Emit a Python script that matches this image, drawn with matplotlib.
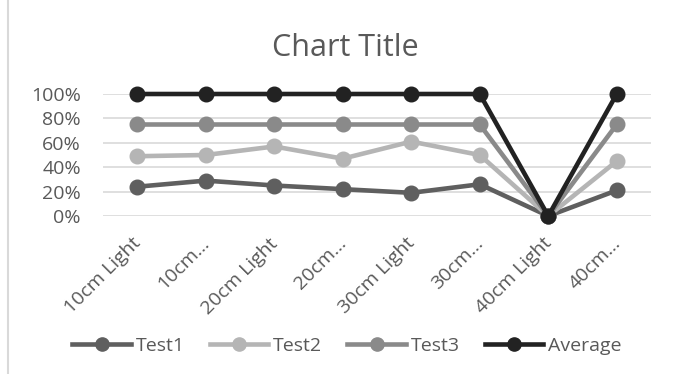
import matplotlib.pyplot as plt
import matplotlib.transforms as mtransforms
from matplotlib.lines import Line2D
from matplotlib.ticker import PercentFormatter

categories = ['10cm Light', '10cm...', '20cm Light', '20cm...',
              '30cm Light', '30cm...', '40cm Light', '40cm...']
test1 = [0.24, 0.29, 0.25, 0.22, 0.19, 0.26, 0.0, 0.21]
test2 = [0.49, 0.50, 0.57, 0.47, 0.61, 0.50, 0.0, 0.45]
test3 = [0.75, 0.75, 0.75, 0.75, 0.75, 0.75, 0.0, 0.75]
average = [1.0, 1.0, 1.0, 1.0, 1.0, 1.0, 0.0, 1.0]

series = [('Test1', test1, '#5f5f5f'),
          ('Test2', test2, '#b5b5b5'),
          ('Test3', test3, '#8a8a8a'),
          ('Average', average, '#222222')]

plt.rcParams['font.family'] = ['Open Sans', 'DejaVu Sans']
text_col = '#595959'

fig = plt.figure(figsize=(6.75, 3.74), dpi=100)
ax = fig.add_axes([103 / 675, 1 - 216 / 374, 548 / 675, 122 / 374])

x = list(range(len(categories)))
for name, vals, col in series:
    ax.plot(x, vals, color=col, linewidth=3.3, marker='o', markersize=10.5,
            clip_on=False, zorder=3, label=name)

ax.set_xlim(-0.5, len(categories) - 0.5)
ax.set_ylim(0, 1.0)
ax.set_yticks([0, 0.2, 0.4, 0.6, 0.8, 1.0])
ax.yaxis.set_major_formatter(PercentFormatter(1.0, decimals=0))
ax.grid(axis='y', color='#d9d9d9', linewidth=1.2)
ax.set_axisbelow(True)
for s in ax.spines.values():
    s.set_visible(False)
ax.tick_params(axis='both', length=0, labelsize=14, labelcolor=text_col)
ax.tick_params(axis='y', pad=16)

ax.set_xticks(x)
ax.set_xticklabels(categories, rotation=45, ha='right', va='center',
                   rotation_mode='anchor')
shift = mtransforms.ScaledTranslation(1 / 100, -20 / 100, fig.dpi_scale_trans)
for lbl in ax.get_xticklabels():
    lbl.set_transform(lbl.get_transform() + shift)

fig.text(0.512, 1 - 48 / 374, 'Chart Title', ha='center', va='center',
         fontsize=22, color=text_col)

handles = [Line2D([0], [0], color=c, linewidth=3.3, marker='o', markersize=9.5)
           for _, _, c in series]
fig.legend(handles, [s[0] for s in series], loc='center',
           bbox_to_anchor=(347 / 675, 1 - 346 / 374), ncol=4, frameon=False,
           fontsize=14, labelcolor=text_col, handlelength=3.0,
           handletextpad=0.25, columnspacing=1.3)

# left border of the chart area
fig.add_artist(Line2D([8 / 675, 8 / 675], [0, 1], color='#d9d9d9',
                      linewidth=1.5, transform=fig.transFigure))

fig.savefig('out.png', dpi=100)
